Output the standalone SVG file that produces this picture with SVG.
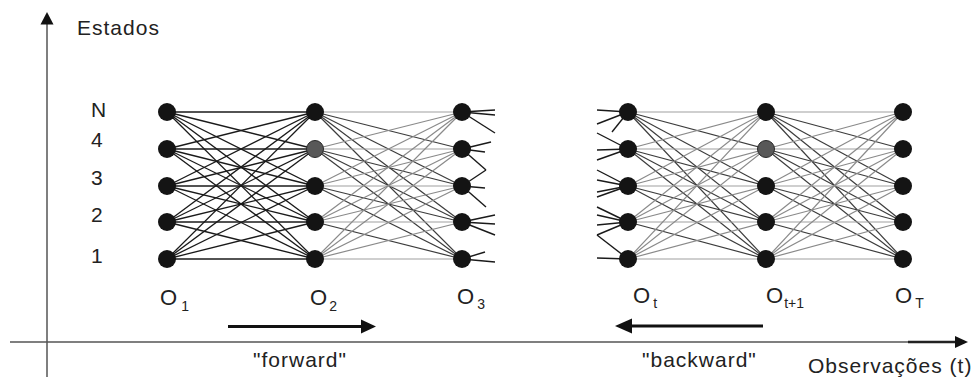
<svg xmlns="http://www.w3.org/2000/svg" width="973" height="377" viewBox="0 0 973 377">
<style>
text{font-family:"Liberation Sans",Arial,sans-serif;fill:#222}
.lbl{font-size:21px;letter-spacing:1px}
.st{font-size:21px}
.o{font-size:22px}
.sub{font-size:14px}
.nd{fill:#141414}
.ng{fill:#585858;stroke:#2a2a2a;stroke-width:1}
.k line{stroke:#1a1a1a;stroke-width:1.3}
.g line.d{stroke:#3c3c3c;stroke-width:1.2}
.g line.a{stroke:#8a8a8a;stroke-width:1.2}
.g line.h{stroke:#a0a0a0;stroke-width:1.2}
.stub line{stroke:#1a1a1a;stroke-width:1.4}
.axis{stroke:#555;stroke-width:1.5;fill:none}
.arr{stroke:#111;stroke-width:3}
</style>

<g id="axes">
<line class="axis" x1="47" y1="22" x2="47" y2="377"/>
<polygon points="47,12 40.5,24.5 53.5,24.5" fill="#111"/>
<line class="axis" x1="10" y1="342" x2="957" y2="342"/>
<line x1="908" y1="342" x2="957" y2="342" stroke="#222" stroke-width="2.5"/>
<polygon points="968,342 955,336 955,348" fill="#111"/>
</g>

<g id="connectors">
<g class="k">
<line x1="167" y1="112" x2="315" y2="112"/><line x1="167" y1="112" x2="315" y2="149"/><line x1="167" y1="112" x2="315" y2="186"/><line x1="167" y1="112" x2="315" y2="222"/><line x1="167" y1="112" x2="315" y2="259"/>
<line x1="167" y1="149" x2="315" y2="112"/><line x1="167" y1="149" x2="315" y2="149"/><line x1="167" y1="149" x2="315" y2="186"/><line x1="167" y1="149" x2="315" y2="222"/><line x1="167" y1="149" x2="315" y2="259"/>
<line x1="167" y1="186" x2="315" y2="112"/><line x1="167" y1="186" x2="315" y2="149"/><line x1="167" y1="186" x2="315" y2="186"/><line x1="167" y1="186" x2="315" y2="222"/><line x1="167" y1="186" x2="315" y2="259"/>
<line x1="167" y1="222" x2="315" y2="112"/><line x1="167" y1="222" x2="315" y2="149"/><line x1="167" y1="222" x2="315" y2="186"/><line x1="167" y1="222" x2="315" y2="222"/><line x1="167" y1="222" x2="315" y2="259"/>
<line x1="167" y1="259" x2="315" y2="112"/><line x1="167" y1="259" x2="315" y2="149"/><line x1="167" y1="259" x2="315" y2="186"/><line x1="167" y1="259" x2="315" y2="222"/><line x1="167" y1="259" x2="315" y2="259"/>
</g>
<g class="g">
<line class="h" x1="315" y1="112" x2="462" y2="112"/><line class="d" x1="315" y1="112" x2="462" y2="149"/><line class="d" x1="315" y1="112" x2="462" y2="186"/><line class="d" x1="315" y1="112" x2="462" y2="222"/><line class="d" x1="315" y1="112" x2="462" y2="259"/>
<line class="a" x1="315" y1="149" x2="462" y2="112"/><line class="h" x1="315" y1="149" x2="462" y2="149"/><line class="d" x1="315" y1="149" x2="462" y2="186"/><line class="d" x1="315" y1="149" x2="462" y2="222"/><line class="d" x1="315" y1="149" x2="462" y2="259"/>
<line class="a" x1="315" y1="186" x2="462" y2="112"/><line class="a" x1="315" y1="186" x2="462" y2="149"/><line class="h" x1="315" y1="186" x2="462" y2="186"/><line class="d" x1="315" y1="186" x2="462" y2="222"/><line class="d" x1="315" y1="186" x2="462" y2="259"/>
<line class="a" x1="315" y1="222" x2="462" y2="112"/><line class="a" x1="315" y1="222" x2="462" y2="149"/><line class="a" x1="315" y1="222" x2="462" y2="186"/><line class="h" x1="315" y1="222" x2="462" y2="222"/><line class="d" x1="315" y1="222" x2="462" y2="259"/>
<line class="a" x1="315" y1="259" x2="462" y2="112"/><line class="a" x1="315" y1="259" x2="462" y2="149"/><line class="a" x1="315" y1="259" x2="462" y2="186"/><line class="a" x1="315" y1="259" x2="462" y2="222"/><line class="h" x1="315" y1="259" x2="462" y2="259"/>
</g>
<g class="g">
<line class="h" x1="628" y1="112" x2="766" y2="112"/><line class="d" x1="628" y1="112" x2="766" y2="149"/><line class="d" x1="628" y1="112" x2="766" y2="186"/><line class="d" x1="628" y1="112" x2="766" y2="222"/><line class="d" x1="628" y1="112" x2="766" y2="259"/>
<line class="a" x1="628" y1="149" x2="766" y2="112"/><line class="h" x1="628" y1="149" x2="766" y2="149"/><line class="d" x1="628" y1="149" x2="766" y2="186"/><line class="d" x1="628" y1="149" x2="766" y2="222"/><line class="d" x1="628" y1="149" x2="766" y2="259"/>
<line class="a" x1="628" y1="186" x2="766" y2="112"/><line class="a" x1="628" y1="186" x2="766" y2="149"/><line class="h" x1="628" y1="186" x2="766" y2="186"/><line class="d" x1="628" y1="186" x2="766" y2="222"/><line class="d" x1="628" y1="186" x2="766" y2="259"/>
<line class="a" x1="628" y1="222" x2="766" y2="112"/><line class="a" x1="628" y1="222" x2="766" y2="149"/><line class="a" x1="628" y1="222" x2="766" y2="186"/><line class="h" x1="628" y1="222" x2="766" y2="222"/><line class="d" x1="628" y1="222" x2="766" y2="259"/>
<line class="a" x1="628" y1="259" x2="766" y2="112"/><line class="a" x1="628" y1="259" x2="766" y2="149"/><line class="a" x1="628" y1="259" x2="766" y2="186"/><line class="a" x1="628" y1="259" x2="766" y2="222"/><line class="h" x1="628" y1="259" x2="766" y2="259"/>
</g>
<g class="g">
<line class="h" x1="766" y1="112" x2="903" y2="112"/><line class="d" x1="766" y1="112" x2="903" y2="149"/><line class="d" x1="766" y1="112" x2="903" y2="186"/><line class="d" x1="766" y1="112" x2="903" y2="222"/><line class="d" x1="766" y1="112" x2="903" y2="259"/>
<line class="a" x1="766" y1="149" x2="903" y2="112"/><line class="h" x1="766" y1="149" x2="903" y2="149"/><line class="d" x1="766" y1="149" x2="903" y2="186"/><line class="d" x1="766" y1="149" x2="903" y2="222"/><line class="d" x1="766" y1="149" x2="903" y2="259"/>
<line class="a" x1="766" y1="186" x2="903" y2="112"/><line class="a" x1="766" y1="186" x2="903" y2="149"/><line class="h" x1="766" y1="186" x2="903" y2="186"/><line class="d" x1="766" y1="186" x2="903" y2="222"/><line class="d" x1="766" y1="186" x2="903" y2="259"/>
<line class="a" x1="766" y1="222" x2="903" y2="112"/><line class="a" x1="766" y1="222" x2="903" y2="149"/><line class="a" x1="766" y1="222" x2="903" y2="186"/><line class="h" x1="766" y1="222" x2="903" y2="222"/><line class="d" x1="766" y1="222" x2="903" y2="259"/>
<line class="a" x1="766" y1="259" x2="903" y2="112"/><line class="a" x1="766" y1="259" x2="903" y2="149"/><line class="a" x1="766" y1="259" x2="903" y2="186"/><line class="a" x1="766" y1="259" x2="903" y2="222"/><line class="h" x1="766" y1="259" x2="903" y2="259"/>
</g>
<g class="stub">
<line x1="462" y1="112" x2="495" y2="110"/><line x1="462" y1="112" x2="495" y2="115"/><line x1="462" y1="112" x2="495" y2="133"/>
<line x1="462" y1="149" x2="491" y2="142"/><line x1="462" y1="149" x2="485" y2="152"/><line x1="462" y1="149" x2="486" y2="170"/>
<line x1="462" y1="186" x2="486" y2="170"/><line x1="462" y1="186" x2="485" y2="188"/><line x1="462" y1="186" x2="486" y2="207"/>
<line x1="462" y1="222" x2="495" y2="215"/><line x1="462" y1="222" x2="495" y2="224"/><line x1="462" y1="222" x2="495" y2="235"/>
<line x1="462" y1="259" x2="485" y2="252"/><line x1="462" y1="259" x2="495" y2="262"/>
<line x1="597" y1="110" x2="628" y2="112"/><line x1="597" y1="124" x2="628" y2="112"/><line x1="612" y1="132" x2="628" y2="112"/>
<line x1="597" y1="133" x2="628" y2="149"/><line x1="597" y1="150" x2="628" y2="149"/><line x1="597" y1="160" x2="628" y2="149"/>
<line x1="597" y1="170" x2="628" y2="186"/><line x1="597" y1="180" x2="628" y2="186"/><line x1="597" y1="192" x2="628" y2="186"/><line x1="597" y1="197" x2="628" y2="186"/>
<line x1="597" y1="207" x2="628" y2="222"/><line x1="597" y1="215" x2="628" y2="222"/><line x1="597" y1="225" x2="628" y2="222"/><line x1="597" y1="235" x2="628" y2="222"/>
<line x1="597" y1="235" x2="628" y2="259"/><line x1="597" y1="258" x2="628" y2="259"/>
</g>
<g id="fwd-arrow">
<line class="arr" x1="228" y1="326.5" x2="363" y2="326.5"/>
<polygon points="376,326.5 361,319.5 361,333.5" fill="#111"/>
</g>
<g id="bwd-arrow">
<line class="arr" x1="763" y1="326" x2="630" y2="326"/>
<polygon points="615,326 632,318.5 632,333.5" fill="#111"/>
</g>
</g>

<g id="col-O1">
<g id="O1-N"><circle class="nd" cx="167" cy="112" r="9"/></g>
<g id="O1-4"><circle class="nd" cx="167" cy="149" r="9"/></g>
<g id="O1-3"><circle class="nd" cx="167" cy="186" r="9"/></g>
<g id="O1-2"><circle class="nd" cx="167" cy="222" r="9"/></g>
<g id="O1-1"><circle class="nd" cx="167" cy="259" r="9"/></g>
</g>
<g id="col-O2">
<g id="O2-N"><circle class="nd" cx="315" cy="112" r="9"/></g>
<g id="O2-4"><circle class="ng" cx="315" cy="149" r="8.5"/></g>
<g id="O2-3"><circle class="nd" cx="315" cy="186" r="9"/></g>
<g id="O2-2"><circle class="nd" cx="315" cy="222" r="9"/></g>
<g id="O2-1"><circle class="nd" cx="315" cy="259" r="9"/></g>
</g>
<g id="col-O3">
<g id="O3-N"><circle class="nd" cx="462" cy="112" r="9"/></g>
<g id="O3-4"><circle class="nd" cx="462" cy="149" r="9"/></g>
<g id="O3-3"><circle class="nd" cx="462" cy="186" r="9"/></g>
<g id="O3-2"><circle class="nd" cx="462" cy="222" r="9"/></g>
<g id="O3-1"><circle class="nd" cx="462" cy="259" r="9"/></g>
</g>
<g id="col-Ot">
<g id="Ot-N"><circle class="nd" cx="628" cy="112" r="9"/></g>
<g id="Ot-4"><circle class="nd" cx="628" cy="149" r="9"/></g>
<g id="Ot-3"><circle class="nd" cx="628" cy="186" r="9"/></g>
<g id="Ot-2"><circle class="nd" cx="628" cy="222" r="9"/></g>
<g id="Ot-1"><circle class="nd" cx="628" cy="259" r="9"/></g>
</g>
<g id="col-Ot1">
<g id="Ot1-N"><circle class="nd" cx="766" cy="112" r="9"/></g>
<g id="Ot1-4"><circle class="ng" cx="766" cy="149" r="8.5"/></g>
<g id="Ot1-3"><circle class="nd" cx="766" cy="186" r="9"/></g>
<g id="Ot1-2"><circle class="nd" cx="766" cy="222" r="9"/></g>
<g id="Ot1-1"><circle class="nd" cx="766" cy="259" r="9"/></g>
</g>
<g id="col-OT">
<g id="OT-N"><circle class="nd" cx="903" cy="112" r="9"/></g>
<g id="OT-4"><circle class="nd" cx="903" cy="149" r="9"/></g>
<g id="OT-3"><circle class="nd" cx="903" cy="186" r="9"/></g>
<g id="OT-2"><circle class="nd" cx="903" cy="222" r="9"/></g>
<g id="OT-1"><circle class="nd" cx="903" cy="259" r="9"/></g>
</g>

<g id="labels">
<text class="lbl" x="77" y="35">Estados</text>
<text class="st" x="91" y="117">N</text>
<text class="st" x="91" y="147">4</text>
<text class="st" x="91" y="185">3</text>
<text class="st" x="91" y="222">2</text>
<text class="st" x="91" y="263">1</text>
<text class="o" x="160" y="305">O<tspan class="sub" dx="4" dy="6">1</tspan></text>
<text class="o" x="310" y="305">O<tspan class="sub" dx="2" dy="6">2</tspan></text>
<text class="o" x="457" y="304">O<tspan class="sub" dx="3" dy="5">3</tspan></text>
<text class="o" x="633" y="303">O<tspan class="sub" dx="3" dy="5">t</tspan></text>
<text class="o" x="766" y="303">O<tspan class="sub" dx="1" dy="5">t+1</tspan></text>
<text class="o" x="895" y="303">O<tspan class="sub" dx="3" dy="5">T</tspan></text>
<text class="lbl" x="253" y="367">"forward"</text>
<text class="lbl" x="642" y="367">"backward"</text>
<text class="lbl" x="808" y="373">Observações (t)</text>
</g>
</svg>
